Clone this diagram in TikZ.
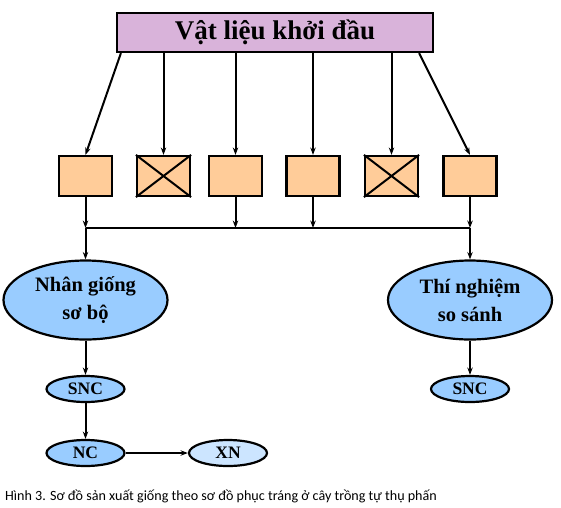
\documentclass[tikz,border=0pt]{standalone}
\usepackage{fontspec}
\setmainfont{Liberation Serif}
\newfontfamily\capfont{Carlito}
\usetikzlibrary{arrows.meta,calc,shapes,positioning}
\definecolor{lilac}{HTML}{D9B3DA}
\definecolor{peach}{HTML}{FFCC99}
\definecolor{skyblue}{HTML}{99CCFF}
\definecolor{paleblue}{HTML}{CCE5FF}

\begin{document}
\begin{tikzpicture}[x=1pt,y=-1pt,
  flow/.style={-{Stealth[length=2.6mm,width=1.9mm]}, line width=2pt},
  seedbox/.style={draw, line width=2.2pt, fill=peach, minimum width=53pt, minimum height=40pt, inner sep=0pt},
  bigoval/.style={ellipse, draw, line width=2.2pt, fill=skyblue, minimum width=164pt, minimum height=79pt, inner sep=0pt, align=center, font=\bfseries\fontsize{20.5}{28}\selectfont},
  smalloval/.style={ellipse, draw, line width=2.2pt, fill=skyblue, minimum width=78pt, minimum height=26pt, inner sep=0pt, font=\bfseries\fontsize{17.5}{17.5}\selectfont}]
  \useasboundingbox (0,0) rectangle (561,507);
  % Dimensions in pixels of the slide
  \def\boxy{176}
  \def\bary{228}

  % Starting material
  \node[draw, fill=lilac, line width=2.2pt, minimum width=316pt, minimum height=39pt, inner sep=0pt, font=\bfseries\fontsize{27}{27}\selectfont] (top) at (275,32.5) {Vật liệu khởi đầu};

  % Draw 6 seed boxes
  \foreach \i/\xx in {1/85.5,2/163.5,3/235.5,4/313,5/391.5,6/470} {
    \node[seedbox] (b\i) at (\xx,\boxy) {};
  }
  % Boxes 2 and 5 are crossed out
  \foreach \i in {2,5} {
    \draw[line width=2pt] (b\i.north west) -- (b\i.south east) (b\i.north east) -- (b\i.south west);
  }

  % Arrows from the top box
  \draw[flow] ($(top.south west)+(5,0)$) -- (b1.north);
  \foreach \i in {2,...,5} {
    \draw[flow] (b\i |- top.south) -- (b\i.north);
  }
  \draw[flow] ($(top.south east)+(-15,0)$) -- (b6.north);

  % Kept boxes go down to the bar
  \foreach \i in {1,3,4,6} {
    \draw[flow] (b\i.south) -- (b\i |- 0,\bary);
  }
  \draw[line width=2pt] (b1 |- 0,\bary) -- (b6 |- 0,\bary);

  % Two branches
  \node[bigoval] (pre) at (85.5,300) {Nhân giống\\sơ bộ};
  \node[bigoval] (cmp) at (470,300) {Thí nghiệm\\so sánh};
  \draw[flow] (b1 |- 0,\bary) -- (pre.north);
  \draw[flow] (b6 |- 0,\bary) -- (cmp.north);

  % Left branch: SNC, NC, XN
  \node[smalloval] (snc1) at (85.5,389) {SNC};
  \node[smalloval] (nc) at (85.5,453) {NC};
  \node[smalloval, fill=paleblue] (xn) at (228,453) {XN};
  \draw[flow] (pre.south) -- (snc1.north);
  \draw[flow] (snc1.south) -- (nc.north);
  \draw[flow] (nc.east) -- (xn.west);

  % Right branch
  \node[smalloval] (snc2) at (470,389) {SNC};
  \draw[flow] (cmp.south) -- (snc2.north);

  % Caption
  \node[anchor=base west, inner sep=0pt, font=\capfont\fontsize{14.1}{16}\selectfont] (cap) at (5,500) {Hình 3. Sơ đồ sản xuất giống theo sơ đồ phục tráng ở cây trồng tự thụ phấn};
\end{tikzpicture}
\end{document}
